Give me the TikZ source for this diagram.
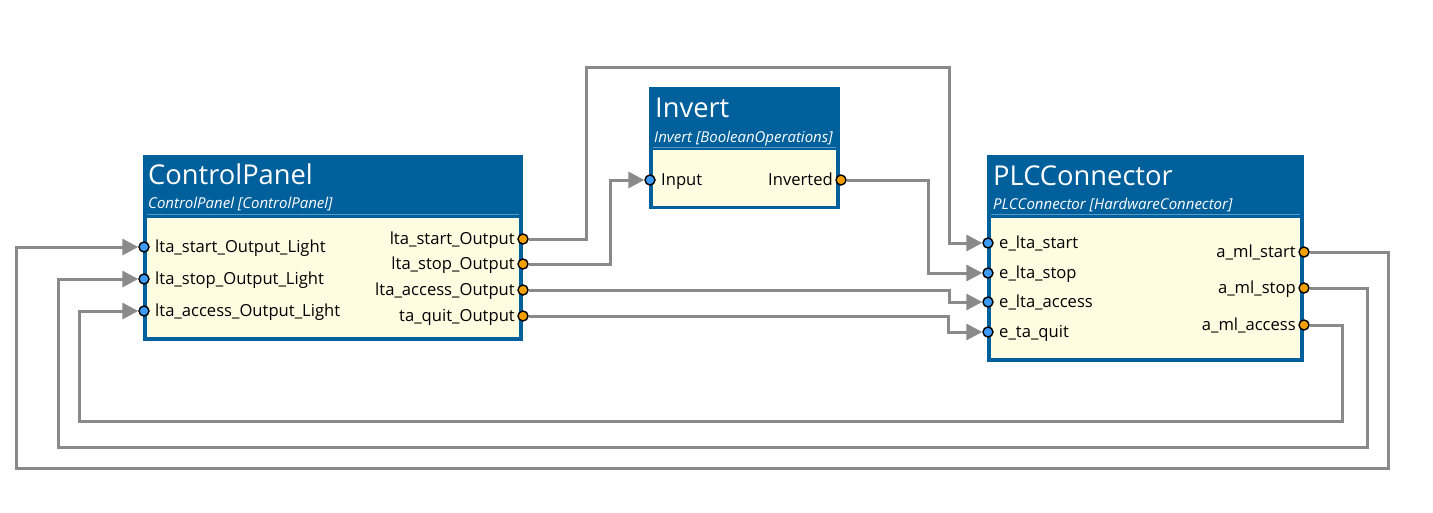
\documentclass[tikz,border=0pt]{standalone}
\usepackage{fontspec}
\setmainfont{Open Sans}
\usetikzlibrary{arrows.meta,backgrounds}
\definecolor{hdr}{HTML}{00609C}
\definecolor{sep}{HTML}{5A9AC6}
\definecolor{bodyc}{HTML}{FFFDE1}
\definecolor{inc}{HTML}{3D9BF5}
\definecolor{outc}{HTML}{F2A000}
\definecolor{wirec}{HTML}{8A8A8A}
\tikzset{
  blk/.style={fill=hdr, draw=none, inner sep=0pt, anchor=north west},
  bodybox/.style={fill=bodyc, draw=none, inner sep=0pt, anchor=north west},
  septl/.style={draw=sep, line width=0.8pt},
  ttl/.style={text=white, inner sep=0pt, anchor=base west, font=\fontsize{27.3}{30}\selectfont},
  subttl/.style={text=white, inner sep=0pt, anchor=base west, font=\fontsize{15}{17}\selectfont\itshape},
  lbl/.style={text=black, inner sep=0pt, font=\fontsize{16.6}{18}\selectfont},
  inport/.style={circle, fill=inc, draw=black, line width=1.4pt, inner sep=0pt, minimum size=10pt},
  outport/.style={circle, fill=outc, draw=black, line width=1.4pt, inner sep=0pt, minimum size=10pt},
  wire/.style={draw=wirec, line width=3pt},
  arr/.style={wire, -{Triangle[length=16pt,width=16pt]}}
}
\newcommand\myinport[3]{%
  \node[inport] (#1) at (#2) {};
  \node[lbl, anchor=base west] (#1t) at ([xshift=11pt,yshift=-5.5pt]#1.center) {#3};}
\newcommand\myoutport[3]{%
  \node[outport] (#1) at (#2) {};
  \node[lbl, anchor=base east] (#1t) at ([xshift=-8pt,yshift=-5.5pt]#1.center) {#3};}
\begin{document}
\begin{tikzpicture}[x=1pt,y=-1pt]
\begin{scope}[on background layer]
\fill[white] (0,0) rectangle (1433,512);
\end{scope}
\useasboundingbox (0,0) rectangle (1433,512);

% ControlPanel
\node[blk, minimum width=380pt, minimum height=186pt] (cp) at (143,155) {};
\node[bodybox, minimum width=372pt, minimum height=119pt] (cpb) at (147,218) {};
\draw[septl] (147,214) -- (519,214);
\node[ttl] (cpt) at (148,184) {ControlPanel};
\node[subttl] (cps) at (148,208) {ControlPanel [ControlPanel]};
\myinport{cpi1}{144,247}{lta\_start\_Output\_Light}
\myinport{cpi2}{144,279}{lta\_stop\_Output\_Light}
\myinport{cpi3}{144,311}{lta\_access\_Output\_Light}
\myoutport{cpo1}{523,239}{lta\_start\_Output}
\myoutport{cpo2}{523,264}{lta\_stop\_Output}
\myoutport{cpo3}{523,290}{lta\_access\_Output}
\myoutport{cpo4}{523,316}{ta\_quit\_Output}

% Invert
\node[blk, minimum width=191pt, minimum height=122pt] (inv) at (649,87) {};
\node[bodybox, minimum width=183pt, minimum height=56pt] (invb) at (653,150) {};
\draw[septl] (653,147) -- (836,147);
\node[ttl] (invt) at (655,117) {Invert};
\node[subttl] (invs) at (654,142) {Invert [BooleanOperations]};
\myinport{ii1}{650,180}{Input}
\myoutport{io1}{841,180}{Inverted}

% PLCConnector
\node[blk, minimum width=317pt, minimum height=207pt] (plc) at (987,155) {};
\node[bodybox, minimum width=309pt, minimum height=140pt] (plcb) at (991,218) {};
\draw[septl] (991,214) -- (1300,214);
\node[ttl] (plct) at (993,185) {PLCConnector};
\node[subttl] (plcs) at (993,209) {PLCConnector [HardwareConnector]};
\myinport{pi1}{988,243}{e\_lta\_start}
\myinport{pi2}{988,273}{e\_lta\_stop}
\myinport{pi3}{988,302}{e\_lta\_access}
\myinport{pi4}{988,332}{e\_ta\_quit}
\myoutport{po1}{1304,252}{a\_ml\_start}
\myoutport{po2}{1304,288}{a\_ml\_stop}
\myoutport{po3}{1304,325}{a\_ml\_access}

% wires
\begin{scope}[on background layer]
\draw[arr] (cpo1) -| (586,67) -| ([xshift=-39pt]pi1.center) -- (pi1);
\draw[arr] (cpo2) -| ([xshift=-40pt]ii1.center) -- (ii1);
\draw[arr] (io1) -| ([xshift=-60pt]pi2.center) -- (pi2);
\draw[arr] (cpo3) -| ([xshift=-39pt]pi3.center) -- (pi3);
\draw[arr] (cpo4) -| ([xshift=-40pt]pi4.center) -- (pi4);
\draw[arr] (po1) -| (1388,468) -| ([xshift=-128pt]cpi1.center) -- (cpi1);
\draw[arr] (po2) -| (1367,447) -| ([xshift=-86pt]cpi2.center) -- (cpi2);
\draw[arr] (po3) -| (1342,421) -| ([xshift=-65pt]cpi3.center) -- (cpi3);
\end{scope}
\end{tikzpicture}
\end{document}
